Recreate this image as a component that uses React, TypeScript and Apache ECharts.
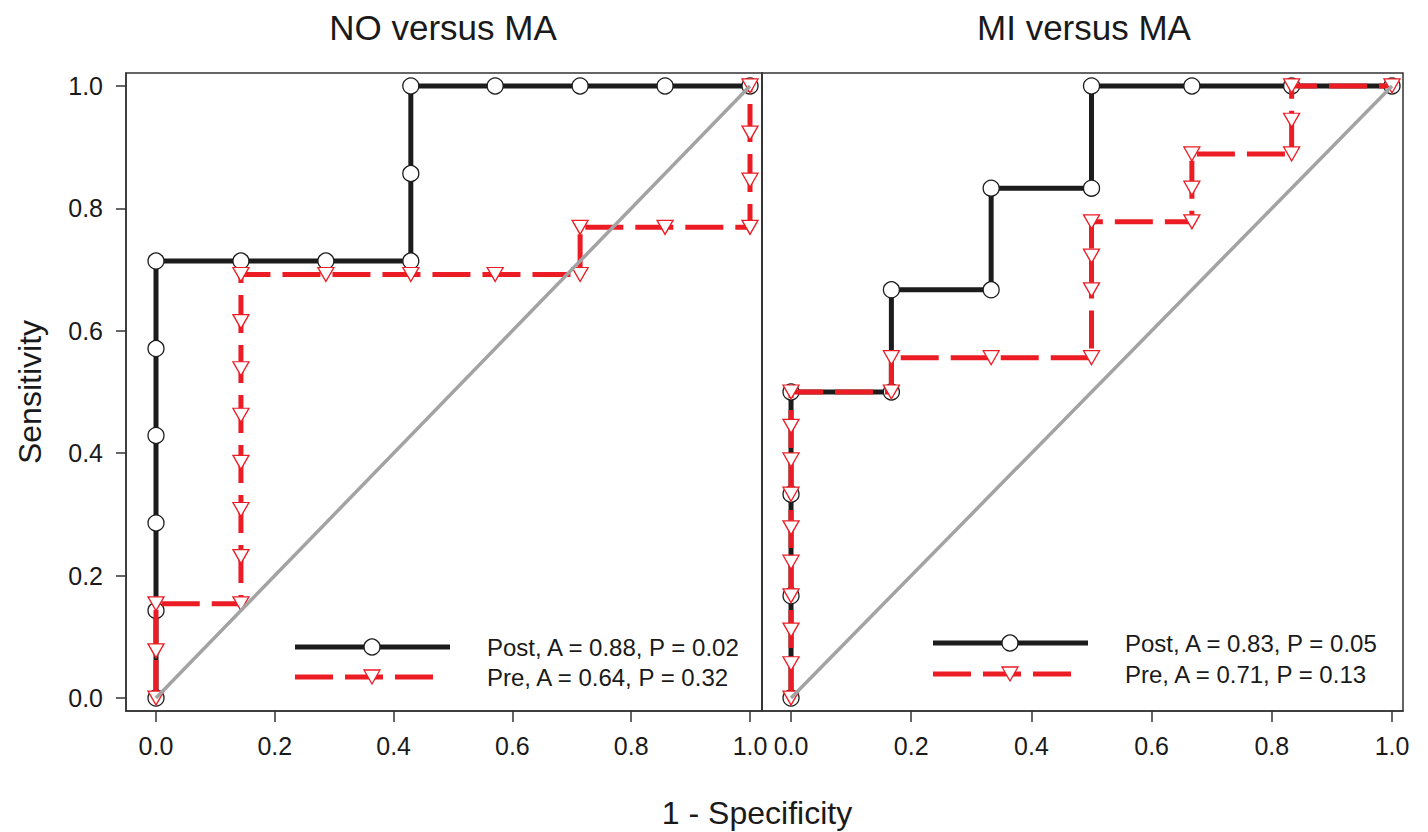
import React, { useEffect, useRef } from "react";
import * as echarts from "echarts";

// ---------- data ----------
// Panel 1: NO versus MA
const noPostFpr = [0, 0, 0, 0, 0, 0, 0.143, 0.286, 0.429, 0.429, 0.429, 0.571, 0.714, 0.857, 1];
const noPostTpr = [0, 0.143, 0.286, 0.429, 0.571, 0.714, 0.714, 0.714, 0.714, 0.857, 1, 1, 1, 1, 1];
const noPreFpr = [0, 0, 0, 0.143, 0.143, 0.143, 0.143, 0.143, 0.143, 0.143, 0.143, 0.286, 0.429, 0.571, 0.714, 0.714, 0.857, 1, 1, 1, 1];
const noPreTpr = [0, 0.077, 0.154, 0.154, 0.231, 0.308, 0.385, 0.462, 0.538, 0.615, 0.692, 0.692, 0.692, 0.692, 0.692, 0.769, 0.769, 0.769, 0.846, 0.923, 1];

// Panel 2: MI versus MA
const miPostFpr = [0, 0, 0, 0, 0.167, 0.167, 0.333, 0.333, 0.5, 0.5, 0.667, 0.833, 1];
const miPostTpr = [0, 0.167, 0.333, 0.5, 0.5, 0.667, 0.667, 0.833, 0.833, 1, 1, 1, 1];
const miPreFpr = [0, 0, 0, 0, 0, 0, 0, 0, 0, 0, 0.167, 0.167, 0.333, 0.5, 0.5, 0.5, 0.5, 0.667, 0.667, 0.667, 0.833, 0.833, 0.833, 1];
const miPreTpr = [0, 0.056, 0.111, 0.167, 0.222, 0.278, 0.333, 0.389, 0.444, 0.5, 0.5, 0.556, 0.556, 0.556, 0.667, 0.722, 0.778, 0.778, 0.833, 0.889, 0.889, 0.944, 1, 1];

const chanceFpr = [0, 1];
const chanceTpr = [0, 1];

const tickValues = [0, 0.2, 0.4, 0.6, 0.8, 1.0];
const panelTitles = ["NO versus MA", "MI versus MA"];
const postLegend = ["Post, A = 0.88, P = 0.02", "Post, A = 0.83, P = 0.05"];
const preLegend = ["Pre, A = 0.64, P = 0.32", "Pre, A = 0.71, P = 0.13"];
const xAxisTitle = "1 - Specificity";
const yAxisTitle = "Sensitivity";

// ---------- styling ----------
const FONT = "'Liberation Sans', Arial, Helvetica, sans-serif";
const TEXT = "#1a1a1a";
const BLACK = "#1c1c1c";
const RED = "#ec1c24";
const GRAY = "#a3a3a3";
const FRAME = "#333333";
const DASH = [38, 12];

const zip = (xs: number[], ys: number[]) => xs.map((x, i) => [x, ys[i]]);

function postSeries(grid: number, xs: number[], ys: number[], name: string) {
  return {
    type: "line",
    name,
    xAxisIndex: grid,
    yAxisIndex: grid,
    data: zip(xs, ys),
    z: 2,
    symbol: "circle",
    symbolSize: 16,
    showSymbol: true,
    lineStyle: { color: BLACK, width: 5 },
    itemStyle: { color: "#ffffff", borderColor: BLACK, borderWidth: 1.3 },
    clip: false,
  };
}

function preSeries(grid: number, xs: number[], ys: number[], name: string) {
  return {
    type: "line",
    name,
    xAxisIndex: grid,
    yAxisIndex: grid,
    data: zip(xs, ys),
    z: 3,
    symbol: "triangle",
    symbolRotate: 180,
    symbolSize: [16, 14],
    showSymbol: true,
    lineStyle: { color: RED, width: 5, type: DASH },
    itemStyle: { color: "#ffffff", borderColor: RED, borderWidth: 1.3 },
    clip: false,
  };
}

function chanceSeries(grid: number) {
  return {
    type: "line",
    name: "chance" + grid,
    xAxisIndex: grid,
    yAxisIndex: grid,
    data: zip(chanceFpr, chanceTpr),
    z: 4,
    symbol: "none",
    lineStyle: { color: GRAY, width: 3.5 },
  };
}

function xAxis(grid: number, min: number, max: number) {
  return {
    type: "value",
    gridIndex: grid,
    min,
    max,
    splitLine: { show: false },
    axisLine: { show: true, onZero: false, lineStyle: { color: FRAME, width: 1.5 } },
    axisTick: {
      show: true,
      customValues: tickValues,
      length: 11,
      lineStyle: { color: FRAME, width: 1.5 },
    },
    axisLabel: {
      customValues: tickValues,
      formatter: (v: number) => v.toFixed(1),
      fontSize: 25,
      fontFamily: FONT,
      color: TEXT,
      margin: 22,
    },
  };
}

function yAxis(grid: number, showLabels: boolean) {
  return {
    type: "value",
    gridIndex: grid,
    min: -0.0212,
    max: 1.0212,
    splitLine: { show: false },
    axisLine: { show: true, onZero: false, lineStyle: { color: FRAME, width: 1.5 } },
    axisTick: {
      show: showLabels,
      customValues: tickValues,
      length: 10,
      lineStyle: { color: FRAME, width: 1.5 },
    },
    axisLabel: {
      show: showLabels,
      customValues: tickValues,
      formatter: (v: number) => v.toFixed(1),
      fontSize: 25,
      fontFamily: FONT,
      color: TEXT,
      margin: 23,
    },
  };
}

function legendGraphics(x0: number, x1: number, xDashEnd: number, yPost: number, yPre: number, xText: number, idx: number) {
  const xm = (x0 + x1) / 2 - 0.5;
  return [
    { type: "line", shape: { x1: x0, y1: yPost, x2: x1, y2: yPost }, style: { stroke: BLACK, lineWidth: 5 }, z: 10 },
    { type: "circle", shape: { cx: xm, cy: yPost, r: 8 }, style: { fill: "#ffffff", stroke: BLACK, lineWidth: 1.3 }, z: 11 },
    { type: "line", shape: { x1: x0, y1: yPre, x2: xDashEnd, y2: yPre }, style: { stroke: RED, lineWidth: 5, lineDash: DASH }, z: 10 },
    {
      type: "polygon",
      shape: { points: [[xm - 8, yPre - 7], [xm + 8, yPre - 7], [xm, yPre + 7]] },
      style: { fill: "#ffffff", stroke: RED, lineWidth: 1.3 },
      z: 11,
    },
    {
      type: "text", x: xText, y: yPost, z: 11,
      style: { text: postLegend[idx], fill: TEXT, font: `24px ${FONT}`, textAlign: "left", textVerticalAlign: "middle", align: "left", verticalAlign: "middle" },
    },
    {
      type: "text", x: xText, y: yPre, z: 11,
      style: { text: preLegend[idx], fill: TEXT, font: `24px ${FONT}`, textAlign: "left", textVerticalAlign: "middle", align: "left", verticalAlign: "middle" },
    },
  ];
}

function textEl(text: string, x: number, y: number, size: number, rotation = 0) {
  return {
    type: "text",
    x,
    y,
    rotation,
    z: 12,
    style: {
      text,
      fill: TEXT,
      font: `${size}px ${FONT}`,
      textAlign: "center",
      textVerticalAlign: "middle",
      align: "center",
      verticalAlign: "middle",
    },
  };
}

export default function App() {
  const ref = useRef<HTMLDivElement>(null);

  useEffect(() => {
    if (!ref.current) return;
    const chart = echarts.init(ref.current, undefined, { renderer: "svg" });
    const option = {
      animation: false,
      backgroundColor: "#ffffff",
      grid: [
        { left: 126, top: 73, width: 636, height: 638, show: true, borderColor: FRAME, borderWidth: 1.5, backgroundColor: "transparent" },
        { left: 762, top: 73, width: 641, height: 638, show: true, borderColor: FRAME, borderWidth: 1.5, backgroundColor: "transparent" },
      ],
      xAxis: [xAxis(0, -0.0505, 1.0202), xAxis(1, -0.0483, 1.0183)],
      yAxis: [yAxis(0, true), yAxis(1, false)],
      series: [
        postSeries(0, noPostFpr, noPostTpr, "Post NO"),
        preSeries(0, noPreFpr, noPreTpr, "Pre NO"),
        chanceSeries(0),
        postSeries(1, miPostFpr, miPostTpr, "Post MI"),
        preSeries(1, miPreFpr, miPreTpr, "Pre MI"),
        chanceSeries(1),
      ],
      graphic: [
        textEl(panelTitles[0], 443, 27, 35),
        textEl(panelTitles[1], 1084, 27, 35),
        textEl(yAxisTitle, 30, 392, 32, Math.PI / 2),
        textEl(xAxisTitle, 757, 813, 32),
        ...legendGraphics(295, 450, 435, 647, 677, 487, 0),
        ...legendGraphics(933, 1088, 1073, 643, 674, 1125, 1),
      ],
    };
    chart.setOption(option as any);
    return () => chart.dispose();
  }, []);

  return (
    <div
      ref={ref}
      style={{ position: "absolute", left: 0, top: 0, width: 1428, height: 832, background: "#ffffff" }}
    />
  );
}
